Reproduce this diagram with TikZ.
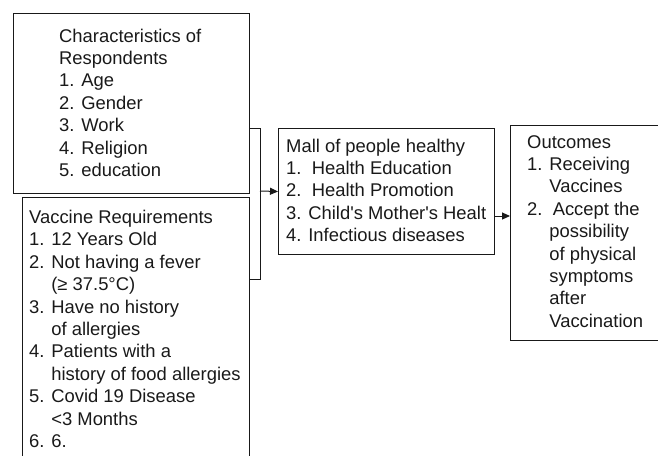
\documentclass[tikz,border=0pt]{standalone}
\usepackage{fontspec}
\setmainfont{Liberation Sans}
\usetikzlibrary{arrows.meta}
\definecolor{ink}{RGB}{25,25,25}
\begin{document}
\begin{tikzpicture}[x=1pt,y=-1pt,
  box/.style={draw=ink,line width=1pt,inner sep=0pt,anchor=north west},
  txt/.style={anchor=base west,align=left,inner sep=0pt,text=ink,font=\fontsize{18.4}{22.4}\selectfont},
  arr/.style={draw=ink,line width=1pt,-{Triangle[length=8pt,width=7pt]}},
  wire/.style={draw=ink,line width=1pt}]
\useasboundingbox (0,0) rectangle (658,455);
\clip (0,0) rectangle (658,455);
% boxes
\node[box,minimum width=236pt,minimum height=180pt] (b1) at (13,13) {};
\node[box,minimum width=227pt,minimum height=275pt] (b2) at (22,197) {};
\node[box,minimum width=216pt,minimum height=126pt] (b3) at (278,128) {};
\node[box,minimum width=165pt,minimum height=215pt] (b4) at (510,125) {};
% texts (anchored at the baseline of their last line)
\node[txt] (t1) at (59,176.5) {Characteristics of\\Respondents\\1. Age\\2. Gender\\3. Work\\4. Religion\\5. education};
\node[txt] (t2) at (29,447.5) {Vaccine Requirements\\1. 12 Years Old\\2. Not having a fever\\\phantom{2. }(≥ 37.5°C)\\3. Have no history\\\phantom{3. }of allergies\\4. Patients with a\\\phantom{4. }history of food allergies\\5. Covid 19 Disease\\\phantom{5. }<3 Months\\6. 6.};
\node[txt] (t3) at (286,241.6) {Mall of people healthy\\1.\ \ Health Education\\2.\ \ Health Promotion\\3. Child\textquotesingle s Mother\textquotesingle s Healt\\4. Infectious diseases};
\node[txt] (t4) at (527,327.2) {Outcomes\\1. Receiving\\\phantom{1. }Vaccines\\2.\ \ Accept the\\\phantom{2. }possibility\\\phantom{2. }of physical\\\phantom{2. }symptoms\\\phantom{2. }after\\\phantom{2. }Vaccination};
% connectors
\coordinate (bt) at (260,128);
\coordinate (bb) at (260,279);
\coordinate (bm) at (260,191);
\coordinate (a2) at (500,216);
\draw[wire] (b1.east |- bt) -- (bt) -- (bb) -- (b2.east |- bb);
\draw[arr] (bm) -- (b3.west);
\draw[arr] (b3.east |- a2) -- (b4.west |- a2);
\end{tikzpicture}
\end{document}
